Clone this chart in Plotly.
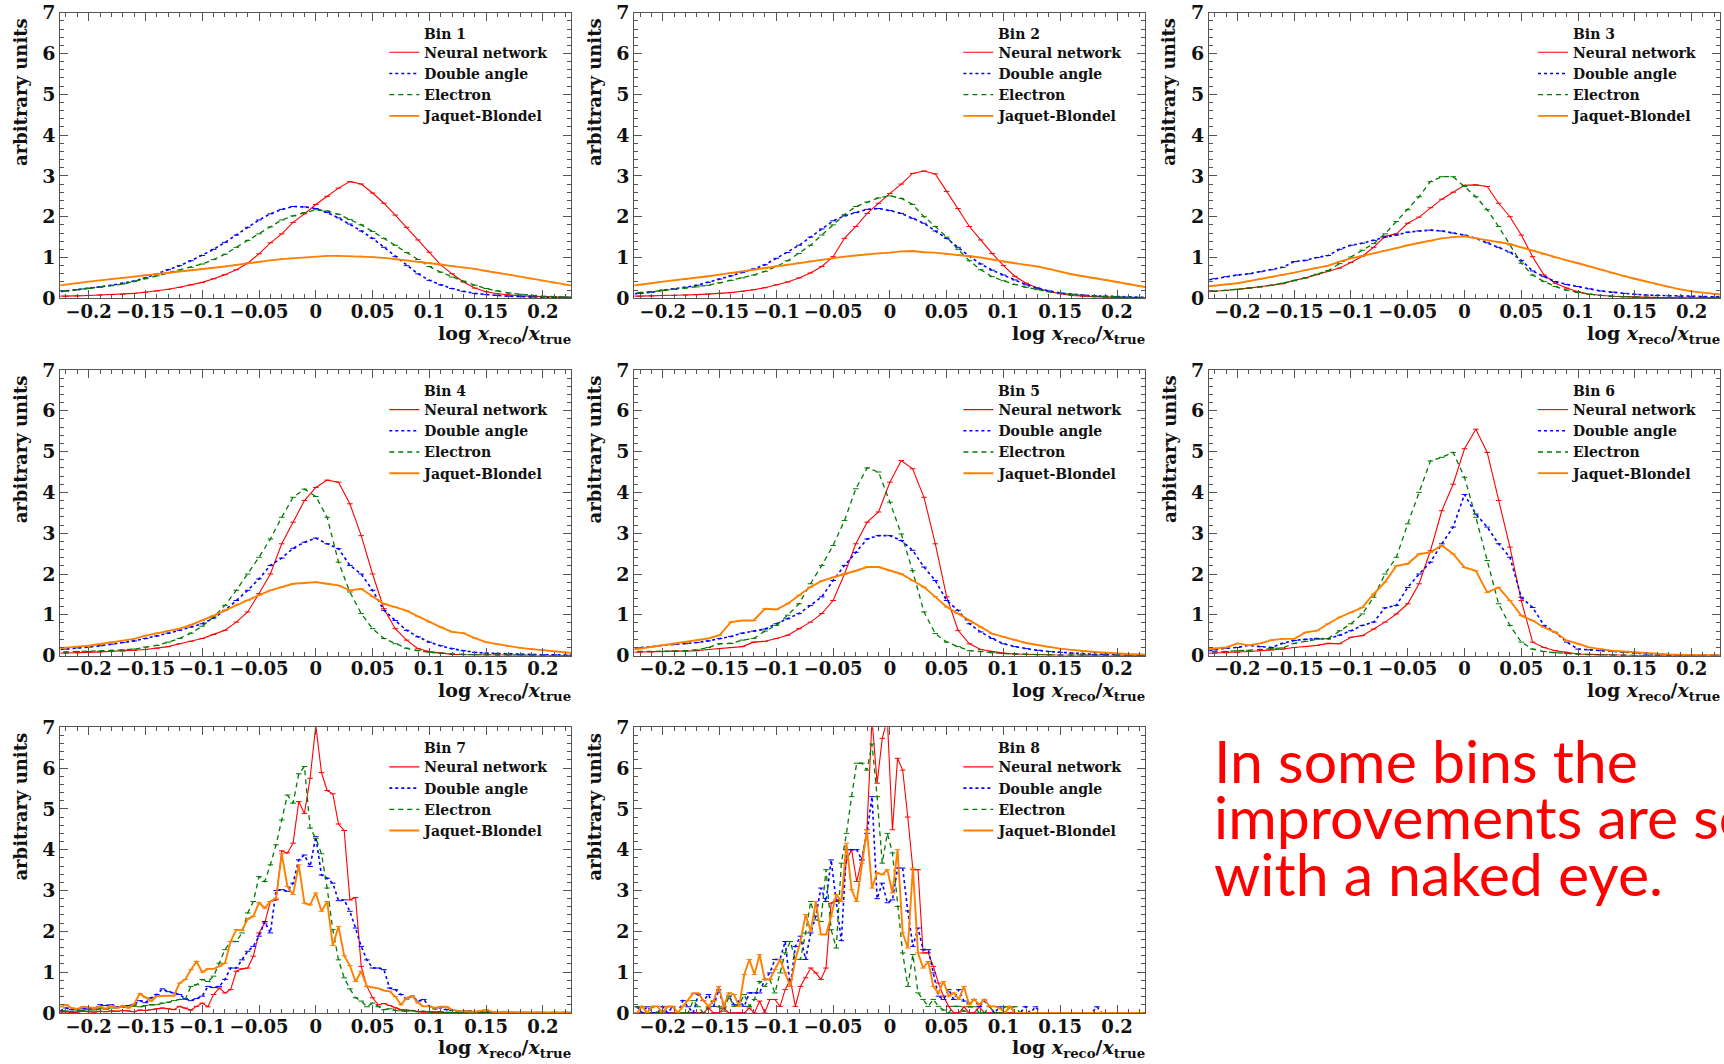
import numpy as np
import plotly.graph_objects as go

# ---------------- data ----------------
X_COARSE = np.round(np.arange(-0.23, 0.2301, 0.01), 3)          # bins 1-6, 47 points
X_B7 = np.round(-0.225 + 0.005 * np.arange(91), 4)               # bin 7
X_B8 = np.round(-0.22275 + 0.0045 * np.arange(100), 5)           # bin 8

SERIES = ["Neural network", "Double angle", "Electron", "Jaquet-Blondel"]
BIN_LABELS = ["Bin 1", "Bin 2", "Bin 3", "Bin 4", "Bin 5", "Bin 6", "Bin 7", "Bin 8"]
X_TICK_VALS = [-0.2, -0.15, -0.1, -0.05, 0, 0.05, 0.1, 0.15, 0.2]
X_TICK_TEXT = ["\u22120.2", "\u22120.15", "\u22120.1", "\u22120.05", "0", "0.05", "0.1", "0.15", "0.2"]
Y_TICK_VALS = [0, 1, 2, 3, 4, 5, 6, 7]
Y_TICK_TEXT = ["0", "1", "2", "3", "4", "5", "6", "7"]
NOTE_LINES = ["In some bins the", "improvements are seen", "with a naked eye."]

B1_NN = [0.05,0.05,0.06,0.07,0.08,0.09,0.1,0.12,0.15,0.18,
         0.22,0.27,0.33,0.39,0.48,0.58,0.7,0.86,1.09,1.36,
         1.58,1.86,2.07,2.3,2.5,2.7,2.86,2.8,2.58,2.33,
         2.04,1.74,1.43,1.13,0.82,0.6,0.4,0.25,0.16,0.11,
         0.08,0.06,0.05,0.04,0.03,0.02,0.02]
B1_DA = [0.15,0.18,0.21,0.25,0.28,0.32,0.37,0.42,0.5,0.6,
         0.7,0.8,0.92,1.05,1.2,1.37,1.55,1.74,1.92,2.07,
         2.18,2.25,2.24,2.2,2.1,1.97,1.82,1.65,1.47,1.25,
         1.02,0.8,0.6,0.44,0.33,0.24,0.17,0.12,0.09,0.07,
         0.05,0.04,0.03,0.03,0.02,0.02,0.01]
B1_EL = [0.15,0.18,0.21,0.24,0.27,0.31,0.35,0.41,0.48,0.55,
         0.62,0.69,0.76,0.84,0.95,1.08,1.25,1.42,1.58,1.75,
         1.92,2.02,2.1,2.17,2.14,2.06,1.93,1.8,1.64,1.47,
         1.3,1.12,0.95,0.78,0.64,0.52,0.42,0.32,0.24,0.18,
         0.13,0.1,0.07,0.05,0.04,0.03,0.02]
B1_JB = [0.3,0.34,0.37,0.41,0.44,0.47,0.5,0.53,0.57,0.6,
         0.63,0.66,0.69,0.72,0.75,0.78,0.82,0.86,0.89,0.93,
         0.96,0.98,1.0,1.02,1.04,1.04,1.03,1.03,1.01,0.99,
         0.96,0.93,0.9,0.87,0.83,0.79,0.76,0.72,0.67,0.63,
         0.58,0.53,0.48,0.43,0.38,0.33,0.29]

B2_NN = [0.05,0.05,0.06,0.07,0.07,0.08,0.09,0.1,0.12,0.14,
         0.17,0.21,0.26,0.33,0.4,0.5,0.62,0.78,1.02,1.47,
         1.76,2.08,2.33,2.57,2.8,3.06,3.12,3.05,2.62,2.2,
         1.76,1.43,1.1,0.8,0.54,0.37,0.25,0.17,0.11,0.07,
         0.05,0.04,0.03,0.02,0.02,0.01,0.01]
B2_DA = [0.1,0.12,0.15,0.2,0.23,0.27,0.32,0.39,0.47,0.55,
         0.63,0.72,0.82,0.98,1.12,1.3,1.5,1.7,1.9,2.02,
         2.1,2.18,2.2,2.15,2.08,1.96,1.84,1.65,1.47,1.25,
         1.03,0.84,0.69,0.57,0.45,0.33,0.25,0.18,0.13,0.1,
         0.08,0.06,0.05,0.04,0.03,0.02,0.02]
B2_EL = [0.12,0.14,0.16,0.19,0.22,0.25,0.28,0.32,0.38,0.44,
         0.5,0.57,0.66,0.78,0.92,1.1,1.3,1.55,1.8,2.05,
         2.25,2.36,2.46,2.51,2.45,2.3,2.0,1.76,1.5,1.2,
         0.92,0.7,0.53,0.43,0.34,0.27,0.21,0.16,0.12,0.09,
         0.07,0.05,0.04,0.03,0.02,0.02,0.01]
B2_JB = [0.3,0.33,0.37,0.41,0.44,0.47,0.51,0.54,0.58,0.62,
         0.66,0.7,0.74,0.79,0.83,0.87,0.91,0.95,0.98,1.02,
         1.05,1.08,1.1,1.12,1.15,1.16,1.13,1.12,1.09,1.07,
         1.04,1.0,0.95,0.9,0.86,0.82,0.78,0.72,0.65,0.59,
         0.54,0.5,0.45,0.4,0.35,0.3,0.25]

B3_NN = [0.15,0.17,0.19,0.22,0.25,0.28,0.32,0.36,0.44,0.5,
         0.58,0.67,0.74,0.88,1.03,1.25,1.52,1.58,1.84,1.99,
         2.22,2.43,2.6,2.77,2.78,2.74,2.33,2.0,1.55,1.02,
         0.57,0.37,0.25,0.16,0.1,0.07,0.05,0.04,0.03,0.02,
         0.02,0.01,0.01,0.01,0.01,0.01,0.01]
B3_DA = [0.43,0.48,0.53,0.57,0.6,0.65,0.7,0.76,0.9,0.93,
         1.0,1.05,1.2,1.3,1.35,1.42,1.5,1.55,1.62,1.65,
         1.67,1.65,1.6,1.55,1.47,1.36,1.25,1.13,0.93,0.67,
         0.53,0.41,0.34,0.29,0.23,0.18,0.15,0.12,0.1,0.08,
         0.07,0.06,0.05,0.05,0.04,0.03,0.03]
B3_EL = [0.15,0.17,0.19,0.22,0.25,0.28,0.32,0.37,0.43,0.5,
         0.59,0.68,0.85,1.01,1.18,1.34,1.58,1.88,2.17,2.49,
         2.86,2.98,2.98,2.74,2.49,2.17,1.76,1.31,0.86,0.57,
         0.41,0.29,0.2,0.14,0.1,0.07,0.05,0.04,0.03,0.02,
         0.02,0.01,0.01,0.01,0.01,0.01,0.01]
B3_JB = [0.28,0.31,0.34,0.37,0.42,0.47,0.52,0.57,0.63,0.69,
         0.75,0.8,0.9,0.98,1.04,1.1,1.17,1.23,1.3,1.36,
         1.41,1.47,1.5,1.52,1.47,1.42,1.38,1.33,1.25,1.17,
         1.08,1.0,0.93,0.86,0.78,0.7,0.62,0.55,0.48,0.41,
         0.34,0.28,0.22,0.17,0.14,0.11,0.08]

B4_NN = [0.06,0.06,0.07,0.08,0.09,0.1,0.11,0.13,0.15,0.18,
         0.22,0.29,0.35,0.42,0.52,0.62,0.82,1.07,1.52,2.0,
         2.74,3.27,3.8,4.12,4.3,4.25,3.72,2.94,2.0,1.15,
         0.66,0.38,0.17,0.1,0.06,0.03,0.02,0.02,0.01,0.01,
         0.01,0.01,0.0,0.0,0.0,0.0,0.0]
B4_DA = [0.14,0.16,0.19,0.21,0.24,0.28,0.32,0.36,0.42,0.48,
         0.55,0.62,0.7,0.78,0.92,1.11,1.35,1.6,1.88,2.21,
         2.39,2.63,2.78,2.88,2.74,2.62,2.21,2.0,1.6,1.11,
         0.86,0.62,0.46,0.33,0.24,0.17,0.12,0.08,0.06,0.05,
         0.04,0.03,0.03,0.02,0.02,0.01,0.01]
B4_EL = [0.08,0.09,0.1,0.1,0.11,0.12,0.14,0.16,0.21,0.25,
         0.33,0.42,0.55,0.72,0.95,1.23,1.6,2.0,2.41,2.86,
         3.39,3.88,4.08,3.9,3.39,2.29,1.56,1.03,0.66,0.42,
         0.29,0.18,0.12,0.08,0.06,0.04,0.03,0.02,0.02,0.01,
         0.01,0.01,0.01,0.0,0.0,0.0,0.0]
B4_JB = [0.17,0.2,0.22,0.24,0.28,0.33,0.37,0.41,0.49,0.55,
         0.61,0.66,0.75,0.86,0.98,1.11,1.24,1.35,1.48,1.6,
         1.68,1.76,1.78,1.8,1.76,1.72,1.6,1.64,1.45,1.27,
         1.19,1.1,0.96,0.82,0.7,0.58,0.55,0.43,0.33,0.28,
         0.23,0.19,0.16,0.13,0.1,0.07,0.05]

B5_NN = [0.08,0.09,0.09,0.1,0.11,0.11,0.12,0.15,0.17,0.2,
         0.22,0.33,0.35,0.42,0.5,0.66,0.82,1.03,1.35,2.0,
         2.74,3.27,3.52,4.25,4.78,4.58,3.88,2.74,1.44,0.62,
         0.29,0.15,0.1,0.06,0.04,0.03,0.02,0.02,0.01,0.01,
         0.01,0.01,0.0,0.0,0.0,0.0,0.0]
B5_DA = [0.17,0.19,0.22,0.25,0.27,0.29,0.32,0.36,0.42,0.47,
         0.55,0.6,0.65,0.78,0.9,1.03,1.23,1.44,1.84,2.21,
         2.53,2.86,2.94,2.94,2.82,2.58,2.17,1.84,1.35,1.11,
         0.78,0.58,0.42,0.29,0.22,0.17,0.13,0.1,0.08,0.06,
         0.04,0.03,0.03,0.02,0.02,0.01,0.01]
B5_EL = [0.1,0.1,0.1,0.1,0.11,0.12,0.14,0.2,0.29,0.3,
         0.38,0.42,0.6,0.74,0.99,1.27,1.76,2.21,2.7,3.31,
         4.09,4.6,4.5,3.76,2.98,2.08,1.07,0.54,0.33,0.22,
         0.12,0.1,0.07,0.05,0.04,0.03,0.02,0.01,0.01,0.01,
         0.01,0.0,0.0,0.0,0.0,0.0,0.0]
B5_JB = [0.13,0.17,0.21,0.25,0.29,0.33,0.37,0.42,0.5,0.82,
         0.86,0.86,1.15,1.13,1.27,1.48,1.68,1.83,1.92,2.0,
         2.08,2.17,2.17,2.08,2.0,1.84,1.68,1.44,1.19,1.03,
         0.86,0.7,0.54,0.46,0.38,0.31,0.26,0.21,0.17,0.14,
         0.11,0.09,0.07,0.05,0.04,0.03,0.02]

B6_NN = [0.05,0.06,0.07,0.08,0.1,0.12,0.14,0.16,0.2,0.22,
         0.25,0.3,0.29,0.45,0.49,0.65,0.82,1.02,1.27,1.76,
         2.57,3.55,4.2,5.07,5.55,4.98,3.8,2.66,1.35,0.33,
         0.2,0.12,0.08,0.04,0.03,0.02,0.01,0.01,0.0,0.0,
         0.0,0.0,0.0,0.0,0.0,0.0,0.0]
B6_DA = [0.1,0.14,0.18,0.2,0.25,0.22,0.2,0.3,0.37,0.4,
         0.42,0.41,0.5,0.61,0.74,0.82,1.17,1.23,1.67,2.0,
         2.29,2.74,3.15,3.95,3.47,3.15,2.74,2.41,1.43,1.18,
         0.74,0.57,0.33,0.16,0.14,0.12,0.1,0.08,0.06,0.04,
         0.03,0.02,0.02,0.01,0.01,0.01,0.0]
B6_EL = [0.08,0.09,0.1,0.12,0.13,0.15,0.17,0.19,0.3,0.35,
         0.4,0.42,0.61,0.78,1.02,1.43,2.0,2.41,3.23,4.0,
         4.77,4.86,4.98,4.37,3.39,2.33,1.27,0.74,0.33,0.16,
         0.1,0.07,0.05,0.04,0.02,0.01,0.01,0.0,0.0,0.0,
         0.0,0.0,0.0,0.0,0.0,0.0,0.0]
B6_JB = [0.15,0.18,0.2,0.3,0.25,0.3,0.38,0.41,0.41,0.57,
         0.61,0.78,0.94,1.06,1.18,1.51,1.8,2.2,2.25,2.49,
         2.53,2.7,2.49,2.16,2.08,1.55,1.67,1.35,0.98,0.86,
         0.69,0.57,0.37,0.29,0.2,0.16,0.12,0.1,0.08,0.06,
         0.04,0.03,0.02,0.01,0.01,0.01,0.01]

B7_NN = [0.02,0.03,0.0,0.02,0.04,0.03,0.02,0.04,0.03,0.05,
         0.04,0.06,0.05,0.03,0.07,0.06,0.08,0.1,0.12,0.1,
         0.08,0.16,0.12,0.07,0.16,0.24,0.15,0.45,0.61,0.49,
         0.57,1.02,1.08,1.1,1.39,1.96,2.2,2.73,2.77,3.97,
         3.92,4.16,5.18,4.89,5.75,7.05,5.89,5.45,5.37,4.63,
         4.47,2.77,2.83,1.14,0.65,0.37,0.2,0.23,0.18,0.12,
         0.08,0.07,0.05,0.03,0.02,0.03,0.01,0.02,0.01,0.0,
         0.01,0.0,0.0,0.01,0.0,0.0,0.0,0.0,0.0,0.0,
         0.01,0.0,0.0,0.0,0.0,0.0,0.0,0.0,0.0,0.0,
         0.0]
B7_DA = [0.05,0.12,0.08,0.1,0.1,0.12,0.1,0.2,0.18,0.2,
         0.15,0.15,0.18,0.2,0.3,0.25,0.37,0.45,0.59,0.52,
         0.49,0.45,0.35,0.3,0.35,0.41,0.65,0.62,0.65,0.82,
         1.1,1.1,1.3,1.51,1.63,1.88,2.24,1.96,3.0,3.02,
         2.98,3.18,3.75,3.87,3.59,4.32,3.38,3.3,3.18,2.75,
         2.77,2.49,2.08,1.63,1.3,1.1,1.1,1.06,0.61,0.57,
         0.45,0.34,0.41,0.29,0.33,0.16,0.1,0.13,0.08,0.06,
         0.05,0.04,0.05,0.03,0.03,0.02,0.02,0.01,0.01,0.01,
         0.01,0.0,0.0,0.0,0.0,0.0,0.0,0.0,0.0,0.0,
         0.0]
B7_EL = [0.04,0.05,0.03,0.05,0.06,0.08,0.07,0.1,0.09,0.12,
         0.13,0.15,0.14,0.17,0.15,0.18,0.2,0.2,0.24,0.26,
         0.3,0.33,0.33,0.65,0.69,0.82,0.77,0.9,1.22,1.55,
         1.75,1.75,1.96,2.45,2.73,3.34,3.22,3.63,4.12,4.73,
         5.34,5.14,5.86,6.04,4.53,4.28,3.9,3.06,2.04,1.3,
         0.86,0.59,0.37,0.29,0.15,0.24,0.15,0.08,0.1,0.06,
         0.05,0.04,0.06,0.03,0.04,0.02,0.03,0.02,0.01,0.01,
         0.01,0.0,0.01,0.0,0.0,0.0,0.0,0.0,0.0,0.0,
         0.0,0.0,0.0,0.0,0.0,0.0,0.0,0.0,0.0,0.0,
         0.0]
B7_JB = [0.15,0.2,0.12,0.1,0.15,0.13,0.12,0.15,0.1,0.18,
         0.12,0.18,0.12,0.22,0.47,0.38,0.29,0.41,0.42,0.42,
         0.42,0.73,0.82,1.06,1.26,1.0,1.08,1.08,1.14,1.22,
         1.75,2.04,2.02,2.3,2.37,2.7,2.57,2.73,2.81,3.9,
         3.1,2.9,3.63,2.69,2.65,2.94,2.49,2.73,1.65,2.12,
         1.4,1.16,0.77,1.02,0.65,0.63,0.6,0.55,0.53,0.4,
         0.2,0.37,0.41,0.24,0.16,0.16,0.12,0.15,0.15,0.08,
         0.05,0.04,0.04,0.03,0.05,0.08,0.03,0.02,0.03,0.02,
         0.02,0.01,0.02,0.01,0.02,0.01,0.01,0.02,0.01,0.02,
         0.01]

B8_NN = [0,0,0,0,0,0,0,0,0,0,
         0,0,0,0,0.12,0,0,0.12,0,0,
         0,0,0.12,0,0.29,0,0.33,0.33,0.16,0.57,
         0.82,0.16,0.65,0.86,1.1,0.98,0.82,1.1,2.69,2.77,
         2.73,3.75,4.0,3.22,3.75,4.49,7.2,5.63,6.73,7.2,
         4.49,6.24,5.95,4.8,3.51,3.51,1.47,1.47,1.14,0.73,
         0.41,0.16,0,0,0.15,0,0,0.15,0,0,
         0,0,0,0,0,0,0,0,0,0,
         0,0,0,0,0,0,0,0,0,0,
         0,0,0,0,0,0,0,0,0,0]
B8_DA = [0.15,0,0.15,0,0,0.15,0,0.15,0,0.3,
         0.15,0,0.45,0.3,0.45,0.16,0.57,0.16,0.41,0.2,
         0.29,0.16,0.49,0.49,0.49,0.82,0.98,1.31,1.31,1.75,
         0.65,1.63,1.88,1.31,1.96,2.37,3.06,2.73,3.75,2.73,
         1.77,4.0,4.0,4.0,3.75,4.4,5.3,2.8,3.18,2.7,
         2.77,3.55,3.55,2.5,1.63,2.08,1.55,1.55,0.98,0.41,
         0.33,0.57,0.33,0.57,0.29,0.24,0.33,0.16,0.29,0.16,
         0,0.15,0,0.15,0,0,0.15,0,0.15,0,
         0,0,0,0,0,0,0,0,0,0,
         0.15,0,0,0,0,0,0,0,0,0]
B8_EL = [0.15,0.15,0,0.15,0,0,0.15,0.15,0,0,
         0,0.3,0.15,0,0.15,0.3,0.15,0.04,0.41,0.16,
         0.2,0.45,0.16,0.33,0.77,0.65,0.82,0.49,0.98,1.47,
         1.75,1.31,1.31,1.96,2.73,2.28,2.24,3.51,2.04,1.59,
         3.67,4.4,5.3,6.12,6.12,5.95,6.59,5.3,3.67,4.4,
         3.92,2.61,1.47,0.65,1.43,0.49,0.33,0.16,0.33,0.16,
         0.07,0,0.16,0.16,0.04,0.15,0.15,0,0,0.15,
         0,0,0.15,0.15,0.15,0,0,0,0,0,
         0,0,0,0,0,0,0,0,0,0,
         0,0,0,0,0,0,0,0,0,0]
B8_JB = [0,0.16,0,0.16,0.16,0,0.16,0.16,0,0.16,
         0.3,0.48,0.48,0.3,0.16,0.3,0.65,0.16,0.49,0.45,
         0.16,0.94,1.31,0.94,1.43,0.82,0.82,1.06,1.31,0.98,
         0.65,1.31,1.75,2.41,2.0,2.73,1.92,1.92,2.37,2.9,
         2.73,4.16,3.02,2.73,3.67,4.49,3.06,3.43,3.39,3.51,
         2.94,4.0,1.96,1.59,3.55,1.47,1.1,1.26,0.65,0.49,
         0.77,0.41,0.49,0.33,0.65,0.2,0.33,0.2,0.33,0.16,
         0.16,0.12,0,0.16,0,0,0,0,0,0,
         0,0,0,0,0,0,0,0,0,0,
         0,0,0,0,0,0,0,0,0,0]

PANELS = [
    (X_COARSE, [B1_NN, B1_DA, B1_EL, B1_JB]),
    (X_COARSE, [B2_NN, B2_DA, B2_EL, B2_JB]),
    (X_COARSE, [B3_NN, B3_DA, B3_EL, B3_JB]),
    (X_COARSE, [B4_NN, B4_DA, B4_EL, B4_JB]),
    (X_COARSE, [B5_NN, B5_DA, B5_EL, B5_JB]),
    (X_COARSE, [B6_NN, B6_DA, B6_EL, B6_JB]),
    (X_B7, [B7_NN, B7_DA, B7_EL, B7_JB]),
    (X_B8, [B8_NN, B8_DA, B8_EL, B8_JB]),
]

# ---------------- styling ----------------
W, H = 1724, 1064
COLORS = ["#ff0000", "#0000ff", "#007a00", "#ff8000"]
DASHES = ["solid", "dot", "5px,4px", "solid"]
WIDTHS = [1.1, 1.6, 1.3, 1.9]
SERIF = "DejaVu Serif"
AXC = "#555555"
TXT = "#111111"

COL_LEFT = [60.3, 634.4, 1209.0]
ROW_TOP = [12.7, 370.0, 727.3]
PW, PH = 511.0, 285.6


def px(xp):
    return xp / W


def py(yp):
    return 1 - yp / H


fig = go.Figure()
annotations = []
layout_axes = {}

for i, (xs, ys_list) in enumerate(PANELS):
    r, c = divmod(i, 3)
    n = i + 1
    xa = "x" if n == 1 else f"x{n}"
    ya = "y" if n == 1 else f"y{n}"
    lg = "legend" if n == 1 else f"legend{n}"
    left, top = COL_LEFT[c], ROW_TOP[r]

    for s, ys in enumerate(ys_list):
        fig.add_trace(go.Scatter(
            x=xs, y=ys, mode="lines", name=SERIES[s],
            line=dict(color=COLORS[s], width=WIDTHS[s], dash=DASHES[s]),
            xaxis=xa, yaxis=ya, legend=lg, showlegend=True,
        ))
        fig.add_trace(go.Scatter(
            x=xs, y=ys, mode="markers", showlegend=False, hoverinfo="skip",
            marker=dict(symbol="line-ew", size=4, color=COLORS[s],
                        line=dict(color=COLORS[s], width=1)),
            xaxis=xa, yaxis=ya,
        ))

    xkey = "xaxis" if n == 1 else f"xaxis{n}"
    ykey = "yaxis" if n == 1 else f"yaxis{n}"
    layout_axes[xkey] = dict(
        domain=[px(left), px(left + PW)], anchor=ya, range=[-0.225, 0.225],
        tickmode="array", tickvals=X_TICK_VALS, ticktext=X_TICK_TEXT,
        tickangle=0, automargin=False,
        ticks="inside", ticklen=8, tickwidth=1, tickcolor=AXC,
        ticklabelstandoff=-3,
        minor=dict(tickmode="linear", tick0=0, dtick=0.01, ticks="inside",
                   ticklen=4, tickcolor=AXC, tickwidth=1, showgrid=False),
        showline=True, linecolor=AXC, linewidth=1, mirror="ticks",
        showgrid=False, zeroline=False,
        tickfont=dict(family=SERIF, size=18, color=TXT, weight="bold"),
        fixedrange=True,
    )
    layout_axes[ykey] = dict(
        domain=[py(top + PH), py(top)], anchor=xa, range=[0, 7],
        tickmode="array", tickvals=Y_TICK_VALS, ticktext=Y_TICK_TEXT,
        automargin=False,
        ticks="inside", ticklen=8, tickwidth=1, tickcolor=AXC,
        minor=dict(tickmode="linear", tick0=0, dtick=0.2, ticks="inside",
                   ticklen=4, tickcolor=AXC, tickwidth=1, showgrid=False),
        showline=True, linecolor=AXC, linewidth=1, mirror="ticks",
        showgrid=False, zeroline=False,
        tickfont=dict(family=SERIF, size=19, color=TXT, weight="bold"),
        fixedrange=True,
    )
    layout_axes[lg] = dict(
        x=px(left + 324), y=py(top + 24), xanchor="left", yanchor="top",
        bgcolor="rgba(0,0,0,0)", borderwidth=0, itemwidth=30,
        font=dict(family=SERIF, size=14, color=TXT, weight="bold"),
        tracegroupgap=0,
    )
    # legend title "Bin N"
    annotations.append(dict(
        xref="paper", yref="paper", x=px(left + 361.5), y=py(top + 21),
        xanchor="left", yanchor="middle", showarrow=False, text=BIN_LABELS[i],
        font=dict(family=SERIF, size=14, color=TXT, weight="bold"),
    ))
    # y axis title
    annotations.append(dict(
        xref="paper", yref="paper", x=px(left - 40), y=py(top + 79),
        xanchor="center", yanchor="middle", showarrow=False, textangle=-90,
        text="arbitrary units",
        font=dict(family=SERIF, size=18, color=TXT, weight="bold"),
    ))
    # x axis title
    annotations.append(dict(
        xref="paper", yref="paper", x=px(left + PW + 2), y=py(top + PH + 36),
        xanchor="right", yanchor="middle", showarrow=False,
        text="log <i>x</i><sub>reco</sub>/<i>x</i><sub>true</sub>",
        font=dict(family=SERIF, size=19, color=TXT, weight="bold"),
    ))

# the note in the empty ninth cell
for j, line in enumerate(NOTE_LINES):
    annotations.append(dict(
        xref="paper", yref="paper", x=px(1212), y=py(760 + 56.5 * j),
        xanchor="left", yanchor="middle", showarrow=False, text=line,
        font=dict(family="Lato", size=59, color="#ff0000"),
    ))

fig.update_layout(
    width=W, height=H,
    margin=dict(l=0, r=0, t=0, b=0, pad=0, autoexpand=False),
    paper_bgcolor="white", plot_bgcolor="white",
    annotations=annotations, hovermode=False,
    **layout_axes,
)

fig.write_html("out.html", config={"displayModeBar": False})
